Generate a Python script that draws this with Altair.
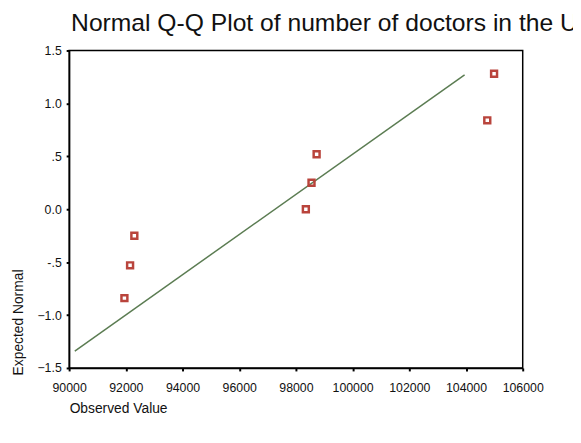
import altair as alt
import pandas as pd

obs_values = [91950, 92150, 92300, 98350, 98550, 98730, 104750, 104990]
expected_normal = [-0.84, -0.53, -0.25, 0.0, 0.25, 0.52, 0.84, 1.28]

# Reference line endpoints
line_x = [90200, 103950]
line_y = [-1.34, 1.27]

x_ticks = [90000, 92000, 94000, 96000, 98000, 100000, 102000, 104000, 106000]
y_ticks = [-1.5, -1.0, -0.5, 0.0, 0.5, 1.0, 1.5]

title_text = "Normal Q-Q Plot of number of doctors in the US"

pts = pd.DataFrame({"obs": obs_values, "exp": expected_normal})
ln = pd.DataFrame({"obs": line_x, "exp": line_y})
ttl = pd.DataFrame({"t": [title_text]})

FONT = "Liberation Sans"

x_enc = alt.X(
    "obs:Q",
    scale=alt.Scale(domain=[90000, 106000], nice=False, zero=False),
    axis=alt.Axis(
        values=x_ticks, format="d", title="Observed Value",
        titleX=0, titleY=45, titleAlign="left", titleAnchor="start",
        titleBaseline="alphabetic", titleFontSize=14, titleFontWeight="normal",
        titleColor="#111", labelFontSize=12.5, labelColor="#111",
        labelPadding=11, tickSize=3, tickColor="#000", tickWidth=2,
        domainColor="#000", domainWidth=1.5, grid=False, labelFlush=False,
    ),
)
y_enc = alt.Y(
    "exp:Q",
    scale=alt.Scale(domain=[-1.5, 1.5], nice=False, zero=False),
    axis=alt.Axis(
        values=y_ticks,
        labelExpr="datum.value == 0.5 ? '.5' : (datum.value == -0.5 ? '-.5' : format(datum.value, '.1f'))",
        title="Expected Normal",
        titleX=-47, titleY=329, titleAngle=-90, titleAlign="left",
        titleBaseline="alphabetic", titleFontSize=14, titleFontWeight="normal",
        titleColor="#111", labelFontSize=12.5, labelColor="#111",
        labelPadding=5, tickSize=3, tickColor="#000", tickWidth=2,
        domainColor="#000", domainWidth=1.5, grid=False, labelFlush=False,
    ),
)

line = alt.Chart(ln).mark_line(color="#5b7c52", strokeWidth=1.5).encode(x=x_enc, y=y_enc)
points = alt.Chart(pts).mark_point(
    shape="square", filled=False, size=36, strokeWidth=2.5, color="#b9443c", opacity=1
).encode(x=x_enc, y=y_enc)
title_mark = alt.Chart(ttl).mark_text(
    align="left", baseline="alphabetic", fontSize=25, font=FONT, color="#111"
).encode(x=alt.value(2), y=alt.value(-20), text="t:N")

chart = (
    alt.layer(line, points, title_mark)
    .properties(
        width=460,
        height=322,
        autosize=alt.AutoSizeParams(type="none"),
        padding={"left": 62, "top": 40, "right": 51, "bottom": 73},
    )
    .configure(font=FONT)
    .configure_view(stroke="#000", strokeWidth=1.5)
    .configure_axis(labelFont=FONT, titleFont=FONT)
)

chart.save("out.html", embed_options={"renderer": "svg", "actions": False})
